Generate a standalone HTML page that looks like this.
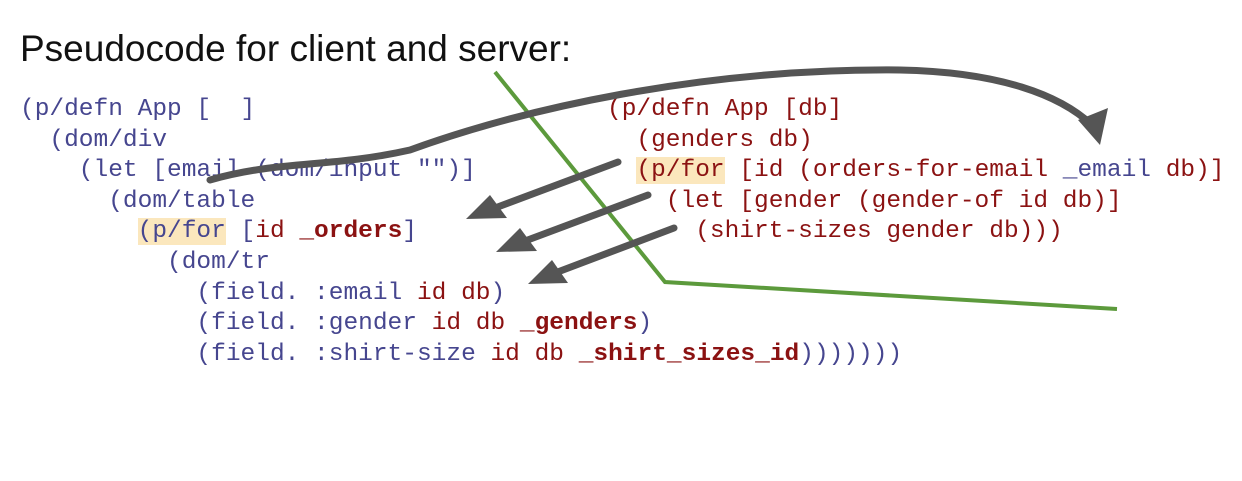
<!DOCTYPE html>
<html><head><meta charset="utf-8"><style>
html,body{margin:0;padding:0;background:#fff;width:1242px;height:481px;overflow:hidden;position:relative}
.t{position:absolute;left:20px;top:28px;font-family:"Liberation Sans",sans-serif;font-size:37px;color:#111;white-space:nowrap;transform-origin:0 0}
.c{position:absolute;font-family:"Liberation Mono",monospace;font-size:24.5px;line-height:30.6px;white-space:pre;color:#46468f}
.r{color:#8b1212}.b{font-weight:bold}.h{background:#fbe7bd}
svg{position:absolute;left:0;top:0}
</style></head><body>
<div class="t">Pseudocode for client and server:</div>
<div class="c" style="left:20px;top:95px">(p/defn App [  ]
  (dom/div
    (let [email (dom/input "")]
      (dom/table
        <span class="h">(p/for</span> [<span class="r">id</span> <span class="r b">_orders</span>]
          (dom/tr
            (field. :email <span class="r">id db</span>)
            (field. :gender <span class="r">id db</span> <span class="r b">_genders</span>)
            (field. :shirt-size <span class="r">id db</span> <span class="r b">_shirt_sizes_id</span>)))))))</div>
<div class="c r" style="left:607px;top:95px">(p/defn App [db]
  (genders db)
  <span class="h">(p/for</span> [id (orders-for-email <span style="color:#46468f">_email</span> db)]
    (let [gender (gender-of id db)]
      (shirt-sizes gender db)))</div>
<svg width="1242" height="481">
<polyline points="495,72 665,282 1117,309" fill="none" stroke="#5c9a3c" stroke-width="4"/>
<g stroke="#555" stroke-width="7" fill="none" stroke-linecap="round">
<path d="M210,180 C280,160 330,168 410,150 C520,110 700,68 900,70 C1000,72 1060,95 1092,125"/>
<line x1="618" y1="162" x2="495" y2="208"/>
<line x1="648" y1="195" x2="525" y2="241"/>
<line x1="674" y1="228" x2="555" y2="273"/>
</g>
<g fill="#555">
<polygon points="1078,120 1108,108 1100,145"/>
<polygon points="466,219 490,195 507,218"/>
<polygon points="496,252 520,228 537,251"/>
<polygon points="528,284 552,260 568,283"/>
</g>
</svg>
</body></html>
